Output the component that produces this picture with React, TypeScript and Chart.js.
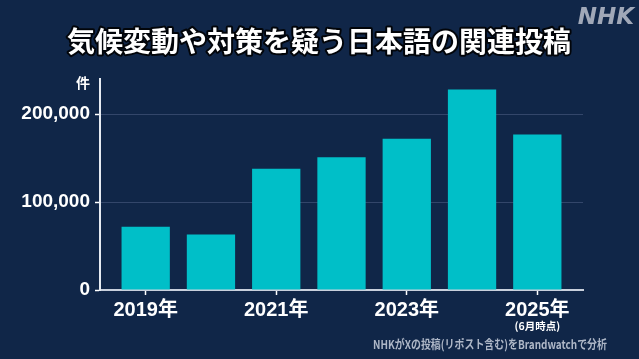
import React, { useEffect, useRef } from 'react';
import { Chart, registerables } from 'chart.js';

Chart.register(...registerables);

const titleText = '気候変動や対策を疑う日本語の関連投稿';
const logoText = 'NHK';
const unitLabel = '件';
const years = ['2019', '2020', '2021', '2022', '2023', '2024', '2025'];
const postCounts = [72000, 63000, 138000, 151000, 172000, 228000, 177000];
const xTickIndices = [0, 2, 4, 6];
const xTickLabels = ['2019年', '2021年', '2023年', '2025年'];
const lastNote = '(6月時点)';
const yTickValues = [0, 100000, 200000];
const sourceText = 'NHKがXの投稿(リポスト含む)をBrandwatchで分析';

const BG = '#102648';
const BAR = '#00bfc8';
const NUM_FONT = '"Liberation Sans", "Noto Sans CJK JP", sans-serif';
const JP_FONT = '"Noto Sans CJK JP", sans-serif';

const decorPlugin = {
  id: 'decor',
  beforeDraw(chart: any) {
    const ctx = chart.ctx;
    ctx.save();
    ctx.fillStyle = BG;
    ctx.fillRect(0, 0, chart.width, chart.height);
    ctx.restore();
  },
  afterDraw(chart: any) {
    const ctx = chart.ctx;
    const xs = chart.scales.x;
    ctx.save();
    // title
    ctx.font = `bold 28px ${JP_FONT}`;
    ctx.textAlign = 'center';
    ctx.textBaseline = 'middle';
    ctx.lineJoin = 'round';
    ctx.lineWidth = 4;
    ctx.strokeStyle = 'rgba(0,0,0,0.85)';
    ctx.strokeText(titleText, 319, 41);
    ctx.fillStyle = '#ffffff';
    ctx.fillText(titleText, 319, 41);
    // logo
    ctx.font = `italic bold 23px "DejaVu Sans", sans-serif`;
    ctx.textAlign = 'right';
    ctx.textBaseline = 'alphabetic';
    ctx.fillStyle = '#a0a8b8';
    ctx.fillText(logoText, 634, 24);
    // unit
    ctx.font = `bold 14px ${JP_FONT}`;
    ctx.textAlign = 'center';
    ctx.textBaseline = 'middle';
    ctx.fillStyle = '#ffffff';
    ctx.fillText(unitLabel, 83, 83);
    // note under last label
    ctx.font = `bold 10.5px ${JP_FONT}`;
    ctx.fillText(lastNote, xs.getPixelForValue(xTickIndices[xTickIndices.length - 1]), 326);
    // source
    ctx.font = `bold 12px ${JP_FONT}`;
    ctx.textAlign = 'left';
    ctx.fillStyle = '#aeb7c7';
    ctx.fillText(sourceText, 373, 344, 234);
    ctx.restore();
  },
};

export default function App() {
  const ref = useRef<HTMLCanvasElement | null>(null);

  useEffect(() => {
    document.body.style.margin = '0';
    document.body.style.background = BG;
    const canvas = ref.current;
    if (!canvas) return;
    const chart = new Chart(canvas, {
      type: 'bar',
      data: {
        labels: years,
        datasets: [
          {
            data: postCounts.map((v, i) => ({ x: i, y: v })) as any,
            backgroundColor: BAR,
            borderWidth: 0,
            barPercentage: 0.74,
            categoryPercentage: 1,
          },
        ],
      },
      options: {
        animation: false,
        responsive: false,
        devicePixelRatio: 1,
        layout: { padding: { top: 79, right: 56, left: 0, bottom: 0 } },
        plugins: {
          legend: { display: false },
          tooltip: { enabled: false },
          title: { display: false },
        },
        scales: {
          x: {
            type: 'linear',
            min: -0.7,
            max: 6.7,
            offset: false,
            afterFit: (s: any) => {
              s.height = 69;
            },
            afterBuildTicks: (s: any) => {
              s.ticks = xTickIndices.map((v) => ({ value: v }));
            },
            grid: {
              offset: false,
              drawOnChartArea: false,
              drawTicks: true,
              tickLength: 5,
              tickColor: '#ffffff',
              tickWidth: 1.5,
            },
            border: { display: true, color: '#c9d0dc', width: 2 },
            ticks: {
              autoSkip: false,
              maxRotation: 0,
              padding: 3,
              color: '#ffffff',
              font: { family: NUM_FONT, size: 20, weight: 'bold' },
              callback: (v: any) => {
                const idx = xTickIndices.indexOf(Number(v));
                return idx >= 0 ? xTickLabels[idx] : '';
              },
            },
          },
          y: {
            min: 0,
            max: 240000,
            afterFit: (s: any) => {
              s.width = 100;
            },
            afterBuildTicks: (s: any) => {
              s.ticks = yTickValues.map((v) => ({ value: v }));
            },
            grid: {
              color: '#33466a',
              lineWidth: 1,
              drawTicks: true,
              tickLength: 5,
              tickColor: '#ffffff',
              tickWidth: 1.5,
            },
            border: { display: true, color: '#e6ebf2', width: 2 },
            ticks: {
              padding: 5,
              color: '#ffffff',
              font: { family: NUM_FONT, size: 19, weight: 'bold' },
              callback: (v: any) => Number(v).toLocaleString('en-US'),
            },
          },
        },
      },
      plugins: [decorPlugin],
    } as any);
    return () => chart.destroy();
  }, []);

  return (
    <div style={{ width: 639, height: 359, background: BG }}>
      <canvas ref={ref} width={639} height={359} style={{ display: 'block', width: 639, height: 359 }} />
    </div>
  );
}
